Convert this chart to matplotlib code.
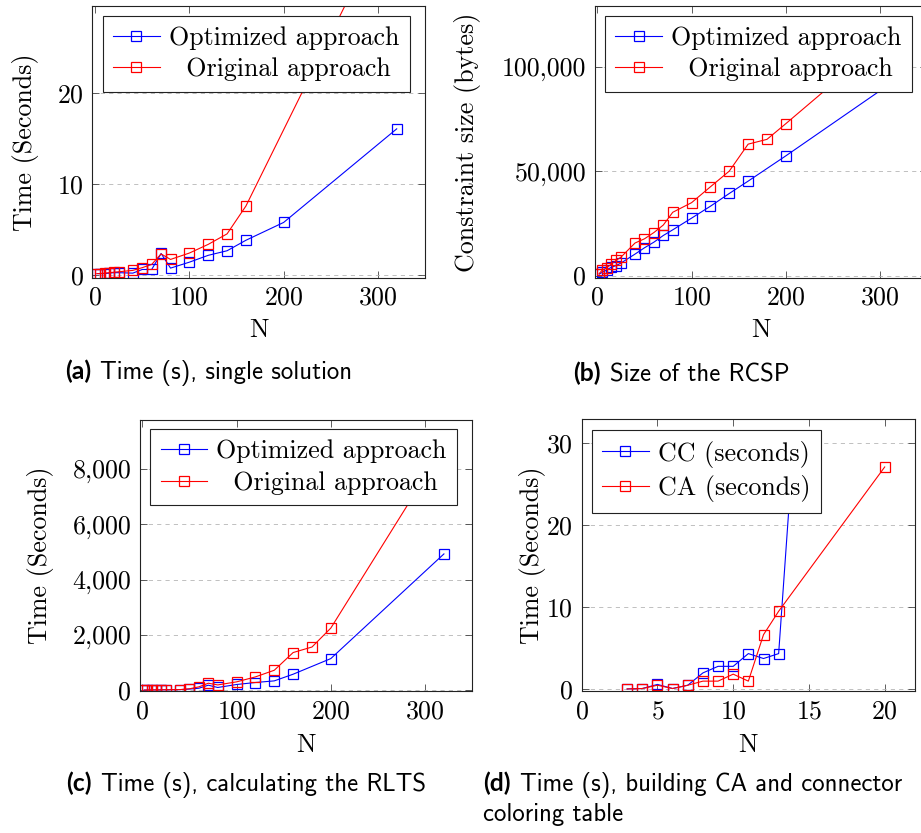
#Figura con 4 graficas (a)-(d): tiempos y tamanios segun N
import matplotlib
matplotlib.use("Agg")
import matplotlib.pyplot as plt
from matplotlib.ticker import MultipleLocator, FuncFormatter

#datos
n_opt = [2, 5, 10, 15, 20, 25, 40, 50, 60, 70, 80, 100, 120, 140, 160, 200, 320]
n_orig_a = [2, 5, 10, 15, 20, 25, 40, 50, 60, 70, 80, 100, 120, 140, 160, 320]
n_orig = [2, 5, 10, 15, 20, 25, 40, 50, 60, 70, 80, 100, 120, 140, 160, 180, 200, 320]

tiempo_opt_a = [0.2, 0.2, 0.2, 0.25, 0.3, 0.3, 0.25, 0.65, 0.65, 2.4, 0.8, 1.45, 2.2, 2.7, 3.85, 5.8, 16.05]
tiempo_orig_a = [0.2, 0.2, 0.25, 0.3, 0.35, 0.4, 0.55, 0.85, 1.2, 2.35, 1.75, 2.45, 3.4, 4.55, 7.6, 41.0]

bytes_opt_b = [700, 1500, 2800, 4000, 4800, 6000, 10300, 13300, 16000, 19200, 21900, 27500,
               33200, 39300, 45200, 57300, 94700]
bytes_orig_b = [1000, 2500, 3800, 5500, 7300, 8800, 15600, 17600, 20600, 24200, 30300, 34900,
                42500, 50000, 62900, 65200, 72700, 118700]

tiempo_opt_c = [3, 5, 8, 10, 12, 15, 20, 40, 70, 180, 97, 205, 277, 336, 577, 1142, 4925]
tiempo_orig_c = [3, 5, 8, 10, 12, 15, 20, 50, 120, 252, 190, 300, 480, 720, 1360, 1560, 2245, 8800]

n_cc = [3, 4, 5, 6, 7, 8, 9, 10, 11, 12, 13, 14]
tiempo_cc = [0.05, 0.1, 0.6, 0.1, 0.5, 2.0, 2.8, 2.8, 4.35, 3.75, 4.35, 30.5]
n_ca = [3, 4, 5, 6, 7, 8, 9, 10, 11, 12, 13, 20]
tiempo_ca = [0.05, 0.1, 0.5, 0.1, 0.5, 1.0, 1.0, 1.85, 1.0, 6.65, 9.5, 27.05]

plt.rcParams["font.family"] = "cmr10"
plt.rcParams["mathtext.fontset"] = "cm"
plt.rcParams["axes.formatter.use_mathtext"] = True
TAM = 18.7          #tamanio de letra (pt)
ANCHO, ALTO = 921, 833

fig = plt.figure(figsize=(ANCHO / 100, ALTO / 100), dpi=100)


def ejes(izq, arriba, der, abajo):
    #crea unos ejes a partir de pixeles de la imagen
    return fig.add_axes([izq / ANCHO, 1 - abajo / ALTO, (der - izq) / ANCHO, (abajo - arriba) / ALTO])


def estilo(ax, xlim, ylim, paso_x, paso_y, ylabel, pos_ylabel, pos_xlabel, miles=False):
    ax.set_xlim(*xlim)
    ax.set_ylim(*ylim)
    ax.xaxis.set_major_locator(MultipleLocator(paso_x))
    ax.yaxis.set_major_locator(MultipleLocator(paso_y))
    if miles:
        ax.yaxis.set_major_formatter(FuncFormatter(lambda v, _: f"{v:,.0f}"))
    ax.tick_params(direction="in", top=True, right=True, length=5, width=0.6,
                   color="#444444", labelsize=TAM, pad=6)
    for s in ax.spines.values():
        s.set_linewidth(0.8)
        s.set_color("#222222")
    ax.yaxis.grid(True, linestyle=(0, (5, 5)), color="#b5b5b5", linewidth=0.6)
    ax.set_axisbelow(True)
    ax.set_ylabel(ylabel, fontsize=TAM, va="center")
    ax.yaxis.set_label_coords(pos_ylabel, 0.5)
    ax.set_xlabel("N", fontsize=TAM, va="center")
    ax.xaxis.set_label_coords(0.5, pos_xlabel)


def serie(ax, x, y, color, etiqueta):
    ax.plot(x, y, color=color, linewidth=0.8, marker="s", markersize=7.8,
            markerfacecolor="none", markeredgewidth=0.9, label=etiqueta)


def leyenda(ax, x0, y0):
    leg = ax.legend(loc="upper left", bbox_to_anchor=(x0, y0), borderaxespad=0,
                    fontsize=TAM, handlelength=1.8, handletextpad=0.35, borderpad=0.4,
                    labelspacing=0.3, fancybox=False, framealpha=1, edgecolor="#222222")
    leg.get_frame().set_linewidth(0.8)
    leg.set_zorder(5)


#(a) tiempo, una solucion
ax_a = ejes(92.3, 6, 425, 277.7)
serie(ax_a, n_opt, tiempo_opt_a, "blue", "Optimized approach")
serie(ax_a, n_orig_a, tiempo_orig_a, "red", "  Original approach")
estilo(ax_a, (-3, 350), (-0.25, 29.5), 100, 10, "Time (Seconds)", -0.202, -0.192)
leyenda(ax_a, 0.031, 0.964)

#(b) tamanio del RCSP
ax_b = ejes(594.5, 6, 927.2, 277.7)
serie(ax_b, n_opt, bytes_opt_b, "blue", "Optimized approach")
serie(ax_b, n_orig, bytes_orig_b, "red", "  Original approach")
estilo(ax_b, (-3, 350), (-1000, 129000), 100, 50000, "Constraint size (bytes)", -0.383, -0.192,
       miles=True)
leyenda(ax_b, 0.031, 0.964)

#(c) tiempo calculando el RLTS
ax_c = ejes(139.5, 420, 472.2, 691)
serie(ax_c, n_opt, tiempo_opt_c, "blue", "Optimized approach")
serie(ax_c, n_orig, tiempo_orig_c, "red", "  Original approach")
estilo(ax_c, (-3, 350), (-30, 9766), 100, 2000, "Time (Seconds)", -0.297, -0.199, miles=True)
leyenda(ax_c, 0.032, 0.967)

#(d) tiempo construyendo CA y tabla de colores
ax_d = ejes(581.7, 419.3, 915, 691)
serie(ax_d, n_cc, tiempo_cc, "blue", "CC (seconds)")
serie(ax_d, n_ca, tiempo_ca, "red", "CA (seconds)")
estilo(ax_d, (0, 22), (-0.2, 32.85), 5, 10, "Time (Seconds)", -0.149, -0.199)
leyenda(ax_d, 0.03, 0.96)

#pies de figura: etiqueta en negrita + texto
fig.canvas.draw()
renderer = fig.canvas.get_renderer()
TAM_PIE = 17.8


def pie(x, y, etiqueta, texto, lineas_extra=()):
    t = fig.text(x / ANCHO, 1 - y / ALTO, etiqueta, fontsize=TAM_PIE, family="Lato",
                 fontweight="bold", va="baseline", ha="left")
    ancho = t.get_window_extent(renderer).width
    fig.text((x + ancho + 9) / ANCHO, 1 - y / ALTO, texto, fontsize=TAM_PIE, family="cmss10",
             va="baseline", ha="left")
    for i, linea in enumerate(lineas_extra):
        fig.text(x / ANCHO, 1 - (y + 30 * (i + 1)) / ALTO, linea, fontsize=TAM_PIE,
                 family="cmss10", va="baseline", ha="left")


pie(65, 379, "(a)", "Time (s), single solution")
pie(573, 381, "(b)", "Size of the RCSP")
pie(66, 791, "(c)", "Time (s), calculating the RLTS")
pie(483, 791, "(d)", "Time (s), building CA and connector", ["coloring table"])

fig.savefig("out.png", dpi=100)
